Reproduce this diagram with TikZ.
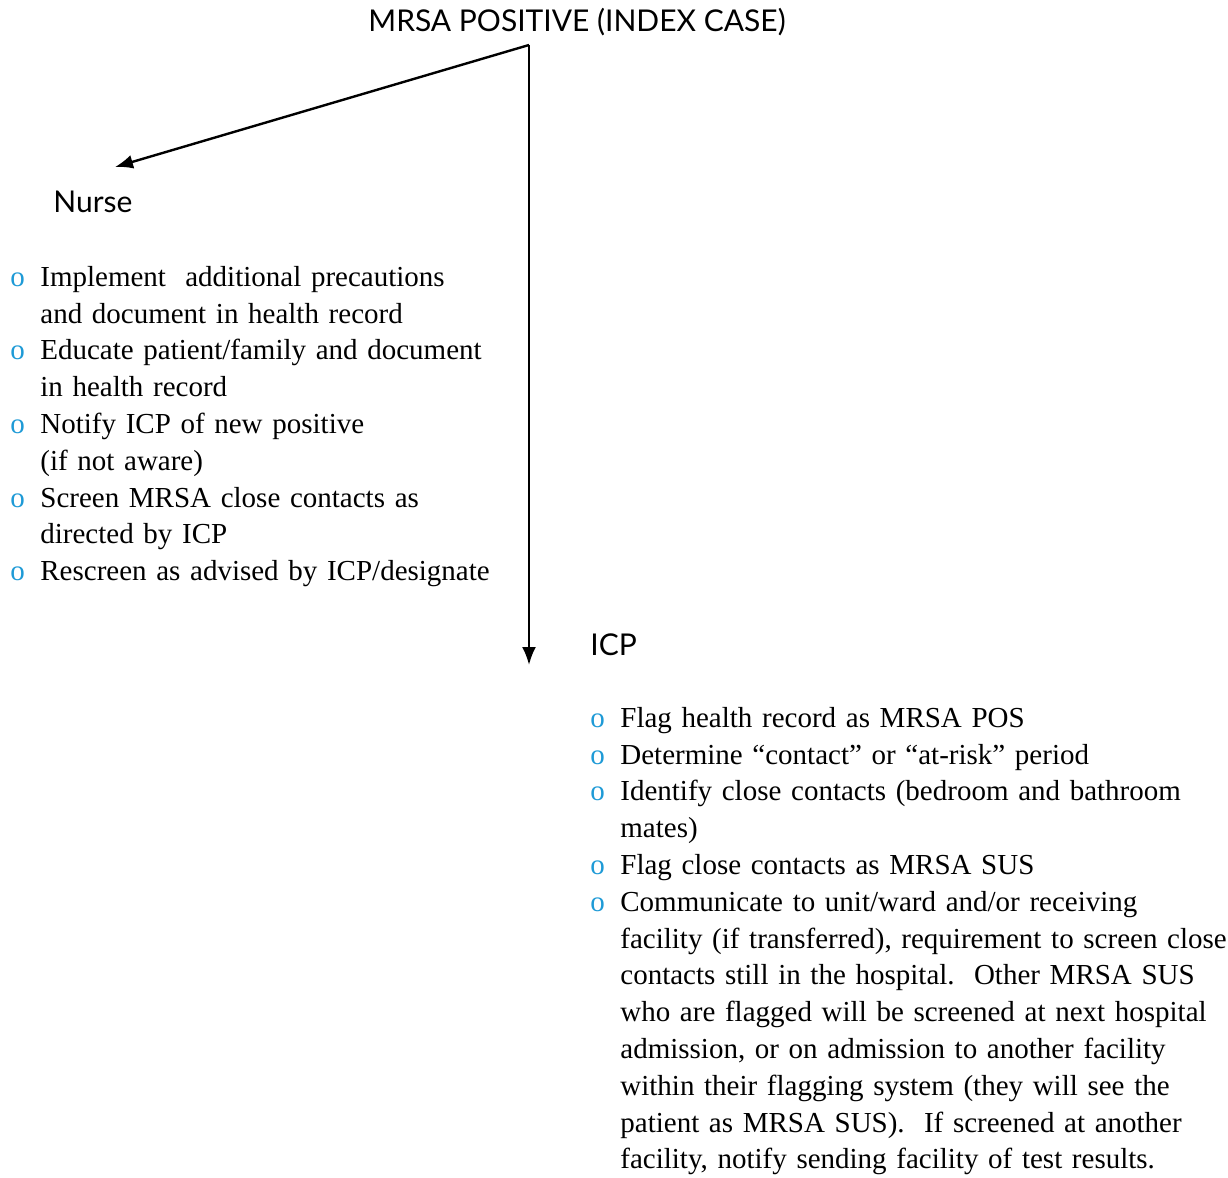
\documentclass[tikz,border=0pt]{standalone}
\usepackage{fontspec}
\setmainfont{Liberation Serif}
\newfontfamily\headfont{Lato}
\usetikzlibrary{arrows.meta}
\definecolor{bulletblue}{HTML}{1E9AD6}
\newcommand{\itm}{\par\noindent\hangindent=15pt\hangafter=1\makebox[15pt][l]{\textcolor{bulletblue}{o}}}
\tikzset{
  head/.style={font=\headfont\fontsize{15}{17}\selectfont, inner sep=0pt},
  steps/.style={font=\fontsize{14.5}{18.4}\selectfont, inner sep=0pt, anchor=north west, align=left},
  arr/.style={line width=1.2pt, -{Latex[length=9pt,width=7pt]}}
}
\begin{document}
\begin{tikzpicture}[x=0.5pt,y=-0.5pt]
                \useasboundingbox (0,0) rectangle (1228,1178);
                % Titres
                \node[head] (index) at (577,22) {MRSA POSITIVE (INDEX CASE)};
                \node[head, anchor=west] (nurse) at (53,202) {Nurse};
                \node[head, anchor=west] (icp) at (590,645) {ICP};

                % Points de depart et d'arrivee des fleches
                \coordinate (split) at (529,45);
                \coordinate (nursetip) at (115,167);
                \coordinate (icptip) at (529,665);

                % Listes d'actions
                \node[steps, text width=290pt] (nurselist) at (10,249) {%
                  \itm Implement\ \ additional precautions\newline and document in health record
                  \itm Educate patient/family and document\newline in health record
                  \itm Notify ICP of new positive\newline (if not aware)
                  \itm Screen MRSA close contacts as\newline directed by ICP
                  \itm Rescreen as advised by ICP/designate\par};
                \node[steps, text width=319pt] (icplist) at (590,690) {%
                  \itm Flag health record as MRSA POS
                  \itm Determine ``contact'' or ``at-risk'' period
                  \itm Identify close contacts (bedroom and bathroom\newline mates)
                  \itm Flag close contacts as MRSA SUS
                  \itm Communicate to unit/ward and/or receiving\newline facility (if transferred), requirement to screen close\newline contacts still in the hospital.\ \ Other MRSA SUS\newline who are flagged will be screened at next hospital\newline admission, or on admission to another facility\newline within their flagging system (they will see the\newline patient as MRSA SUS).\ \ If screened at another\newline facility, notify sending facility of test results.\par};

                % Fleches
                \draw[arr] (split) -- (nursetip);
                \draw[arr] (split) -- (icptip);
\end{tikzpicture}
\end{document}
